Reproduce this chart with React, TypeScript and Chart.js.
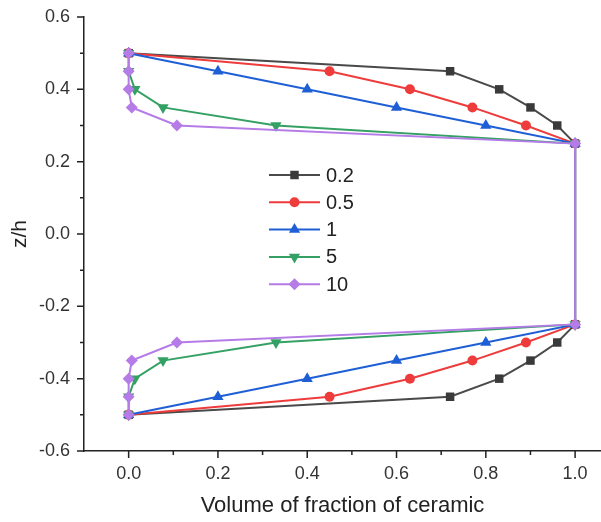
import React, { useEffect, useRef } from 'react';
import { Chart, registerables } from 'chart.js';

Chart.register(...registerables);

// z/h positions of the points (top face -> bottom face)
const zLevels = [0.5, 0.45, 0.4, 0.35, 0.3, 0.25, -0.25, -0.3, -0.35, -0.4, -0.45, -0.5];
// volume fraction of ceramic
const seriesNames = ['0.2', '0.5', '1', '5', '10'];
const vP02 = [0, 0.72, 0.83, 0.9, 0.96, 1, 1, 0.96, 0.9, 0.83, 0.72, 0];
const vP05 = [0, 0.45, 0.63, 0.77, 0.89, 1, 1, 0.89, 0.77, 0.63, 0.45, 0];
const vP1 = [0, 0.2, 0.4, 0.6, 0.8, 1, 1, 0.8, 0.6, 0.4, 0.2, 0];
const vP5 = [0, 0.0, 0.014, 0.077, 0.33, 1, 1, 0.33, 0.077, 0.014, 0.0, 0];
const vP10 = [0, 0.0, 0.0, 0.007, 0.108, 1, 1, 0.108, 0.007, 0.0, 0.0, 0];

const xTickValues = [0, 0.2, 0.4, 0.6, 0.8, 1.0];
const xMinorTickValues = [0.1, 0.3, 0.5, 0.7, 0.9];
const yTickValues = [-0.6, -0.4, -0.2, 0, 0.2, 0.4, 0.6];
const yMinorTickValues = [-0.5, -0.3, -0.1, 0.1, 0.3, 0.5];

const xTitle = 'Volume of fraction of ceramic';
const yTitle = 'z/h';

const seriesValues = [vP02, vP05, vP1, vP5, vP10];
const lineColors = ['#4a4a4a', '#ee3b3b', '#1f5fd6', '#35a063', '#b57be6'];
const markerColors = ['#3a3a3a', '#ee3b3b', '#1f5fd6', '#35a063', '#b57be6'];
const markerStyles = ['rect', 'circle', 'triangle', 'triangle', 'rectRot'];
const markerRotations = [0, 0, 0, 180, 0];
const markerRadii = [6, 5, 6.5, 6.5, 6];

const FONT = '"Liberation Sans", Arial, sans-serif';

function drawMarker(ctx: CanvasRenderingContext2D, style: string, rotDeg: number, r: number, x: number, y: number) {
  ctx.beginPath();
  const rad = (rotDeg * Math.PI) / 180;
  if (style === 'circle') {
    ctx.arc(x, y, r, 0, Math.PI * 2);
  } else if (style === 'rect') {
    const s = Math.SQRT1_2 * r;
    ctx.rect(x - s, y - s, 2 * s, 2 * s);
  } else if (style === 'rectRot') {
    ctx.moveTo(x - r, y);
    ctx.lineTo(x, y - r);
    ctx.lineTo(x + r, y);
    ctx.lineTo(x, y + r);
    ctx.closePath();
  } else if (style === 'triangle') {
    let a = rad;
    ctx.moveTo(x + Math.sin(a) * r, y - Math.cos(a) * r);
    a += (2 * Math.PI) / 3;
    ctx.lineTo(x + Math.sin(a) * r, y - Math.cos(a) * r);
    a += (2 * Math.PI) / 3;
    ctx.lineTo(x + Math.sin(a) * r, y - Math.cos(a) * r);
    ctx.closePath();
  }
  ctx.fill();
}

const tickPlugin = {
  id: 'customTicks',
  afterDraw(chart: any) {
    const ctx = chart.ctx as CanvasRenderingContext2D;
    const xs = chart.scales.x;
    const ys = chart.scales.y;
    ctx.save();
    ctx.strokeStyle = '#222';
    ctx.lineWidth = 1.5;
    const yAxisX = chart.chartArea.left;
    const xAxisY = chart.chartArea.bottom;
    ctx.beginPath();
    yTickValues.forEach((v) => {
      const p = ys.getPixelForValue(v);
      ctx.moveTo(yAxisX - 7, p);
      ctx.lineTo(yAxisX, p);
    });
    yMinorTickValues.forEach((v) => {
      const p = ys.getPixelForValue(v);
      ctx.moveTo(yAxisX - 4, p);
      ctx.lineTo(yAxisX, p);
    });
    xTickValues.forEach((v) => {
      const p = xs.getPixelForValue(v);
      ctx.moveTo(p, xAxisY);
      ctx.lineTo(p, xAxisY + 7);
    });
    xMinorTickValues.forEach((v) => {
      const p = xs.getPixelForValue(v);
      ctx.moveTo(p, xAxisY);
      ctx.lineTo(p, xAxisY + 4);
    });
    ctx.stroke();
    ctx.restore();
  },
};

const legendPlugin = {
  id: 'innerLegend',
  afterDraw(chart: any) {
    const ctx = chart.ctx as CanvasRenderingContext2D;
    ctx.save();
    const x0 = 269;
    const x1 = 320;
    const top = 175;
    const gap = 27.3;
    seriesNames.forEach((name, i) => {
      const y = top + i * gap;
      ctx.strokeStyle = lineColors[i];
      ctx.lineWidth = 2;
      ctx.beginPath();
      ctx.moveTo(x0, y);
      ctx.lineTo(x1, y);
      ctx.stroke();
      ctx.fillStyle = markerColors[i];
      drawMarker(ctx, markerStyles[i], markerRotations[i], markerRadii[i], (x0 + x1) / 2, y);
      ctx.fillStyle = '#222';
      ctx.font = `20px ${FONT}`;
      ctx.textAlign = 'left';
      ctx.textBaseline = 'middle';
      ctx.fillText(name, 326, y + 1);
    });
    ctx.restore();
  },
};

const zeroPadding = (s: any) => {
  s.paddingTop = 0;
  s.paddingBottom = 0;
  s.paddingLeft = 0;
  s.paddingRight = 0;
};

export default function App() {
  const ref = useRef<HTMLCanvasElement>(null);

  useEffect(() => {
    if (!ref.current) return;
    const datasets = seriesNames.map((name, i) => ({
      label: name,
      data: zLevels.map((z, k) => ({ x: seriesValues[i][k], y: z })),
      showLine: true,
      borderColor: lineColors[i],
      backgroundColor: markerColors[i],
      borderWidth: 2,
      pointStyle: markerStyles[i] as any,
      rotation: markerRotations[i],
      pointRadius: markerRadii[i],
      pointBorderWidth: 0,
      pointBackgroundColor: markerColors[i],
      tension: 0,
      order: seriesNames.length - 1 - i,
      clip: false as any,
    }));

    const chart = new Chart(ref.current, {
      type: 'scatter',
      data: { datasets },
      options: {
        animation: false,
        responsive: true,
        maintainAspectRatio: false,
        layout: { autoPadding: false, padding: { top: 17, right: 0, left: 0, bottom: 0 } },
        plugins: { legend: { display: false }, tooltip: { enabled: false } },
        scales: {
          x: {
            type: 'linear',
            min: -0.1,
            max: 1.058,
            afterBuildTicks: (s: any) => {
              s.ticks = xTickValues.map((v) => ({ value: v }));
            },
            afterFit: (s: any) => {
              s.height = 71;
              zeroPadding(s);
            },
            ticks: {
              font: { family: FONT, size: 18 },
              color: '#333',
              padding: 12,
              maxRotation: 0,
              callback: (v: any) => Number(v).toFixed(1),
            },
            grid: { display: false, drawTicks: false },
            border: { display: true, color: '#222', width: 1.5 },
            title: {
              display: true,
              text: xTitle,
              font: { family: FONT, size: 22 },
              color: '#222',
              padding: { top: 0, bottom: 3 },
            },
          },
          y: {
            type: 'linear',
            min: -0.6,
            max: 0.6,
            afterBuildTicks: (s: any) => {
              s.ticks = yTickValues.map((v) => ({ value: v }));
            },
            afterFit: (s: any) => {
              s.width = 84;
              zeroPadding(s);
            },
            ticks: {
              font: { family: FONT, size: 18 },
              color: '#333',
              padding: 14,
              callback: (v: any) => Number(v).toFixed(1),
            },
            grid: { display: false, drawTicks: false },
            border: { display: true, color: '#222', width: 1.5 },
            title: {
              display: true,
              text: yTitle,
              font: { family: FONT, size: 21 },
              color: '#222',
              padding: { top: 8, bottom: 0 },
            },
          },
        },
      },
      plugins: [tickPlugin, legendPlugin],
    });
    return () => chart.destroy();
  }, []);

  return (
    <div style={{ position: 'absolute', left: 0, top: 0, width: 601, height: 522, background: '#fff' }}>
      <canvas ref={ref} />
    </div>
  );
}
